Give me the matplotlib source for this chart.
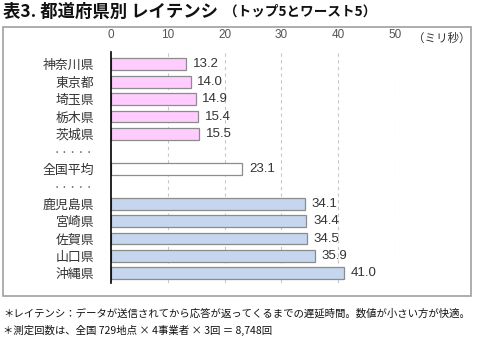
import matplotlib

matplotlib.use("Agg")
import matplotlib.pyplot as plt
from matplotlib.patches import Rectangle

plt.rcParams["font.family"] = ["Noto Sans CJK JP", "DejaVu Sans"]

top_names = ["神奈川県", "東京都", "埼玉県", "栃木県", "茨城県"]
top_values = [13.2, 14.0, 14.9, 15.4, 15.5]
avg_name = "全国平均"
avg_value = 23.1
worst_names = ["鹿児島県", "宮崎県", "佐賀県", "山口県", "沖縄県"]
worst_values = [34.1, 34.4, 34.5, 35.9, 41.0]
x_ticks = [0, 10, 20, 30, 40, 50]

W, H = 478, 340
fig = plt.figure(figsize=(W / 100, H / 100), dpi=100)

# outer frame of the chart area
fig.patches.append(Rectangle((3 / W, 1 - 296 / H), 468 / W, 269 / H,
                             transform=fig.transFigure, fill=False,
                             edgecolor="#a0a0a0", linewidth=1.2))

ax = fig.add_axes([111 / W, 1 - 283 / H, 284 / W, 231 / H])

labels = top_names + ["・・・・・", avg_name, "・・・・・"] + worst_names
rows = list(range(len(labels)))
top_rows = rows[:5]
avg_row = 6
worst_rows = rows[8:]

bh = 0.68
ax.barh(top_rows, top_values, height=bh, color="#ffccff", edgecolor="#8c8c8c", linewidth=0.9)
ax.barh([avg_row], [avg_value], height=bh, color="white", edgecolor="#8c8c8c", linewidth=0.9)
ax.barh(worst_rows, worst_values, height=bh, color="#c6d6ee", edgecolor="#8c8c8c", linewidth=0.9)

for r, v in zip(top_rows + [avg_row] + worst_rows, top_values + [avg_value] + worst_values):
    ax.text(v + 1.2, r, f"{v:.1f}", va="center", ha="left", fontsize=9.5,
            color="#333333", family=["Liberation Sans", "DejaVu Sans"])

ax.set_xlim(0, 50)
ax.set_ylim(12.55, -0.7)
ax.set_yticks(rows)
ax.set_yticklabels(labels, fontsize=9.3, color="#333333")
for lbl in ax.get_yticklabels():
    if lbl.get_text().startswith("・"):
        lbl.set_fontsize(6)
        lbl.set_color("#666666")
ax.xaxis.tick_top()
ax.set_xticks(x_ticks)
ax.set_xticklabels([str(t) for t in x_ticks], fontsize=8.5, color="#555555",
                   family=["Liberation Sans", "DejaVu Sans"])
ax.tick_params(axis="both", length=0)
ax.tick_params(axis="x", pad=8)
ax.tick_params(axis="y", pad=12)
for t in x_ticks[1:]:
    ax.axvline(t, color="#c8c8c8", linestyle=(0, (3, 3)), linewidth=0.8, zorder=0)
for s in ["top", "right", "bottom"]:
    ax.spines[s].set_visible(False)
ax.spines["left"].set_color("black")
ax.spines["left"].set_linewidth(1.2)

fig.text(442 / W, 1 - 38 / H, "（ミリ秒）", fontsize=8.3, color="#333333", ha="center", va="center")

fig.text(3 / W, 1 - 12 / H, "表3. 都道府県別 レイテンシ", fontsize=12.5, fontweight="bold",
         ha="left", va="center", color="#111111")
fig.text(224 / W, 1 - 12 / H, "（トップ5とワースト5）", fontsize=9.8, fontweight="bold",
         ha="left", va="center", color="#111111")

fig.text(3 / W, 1 - 313 / H, "＊レイテンシ：データが送信されてから応答が返ってくるまでの遅延時間。数値が小さい方が快適。",
         fontsize=7.5, ha="left", va="center", color="#111111")
fig.text(3 / W, 1 - 330 / H, "＊測定回数は、全国 729地点 × 4事業者 × 3回 ＝ 8,748回",
         fontsize=7.5, ha="left", va="center", color="#111111")

fig.savefig("out.png", dpi=100)
plt.close(fig)
